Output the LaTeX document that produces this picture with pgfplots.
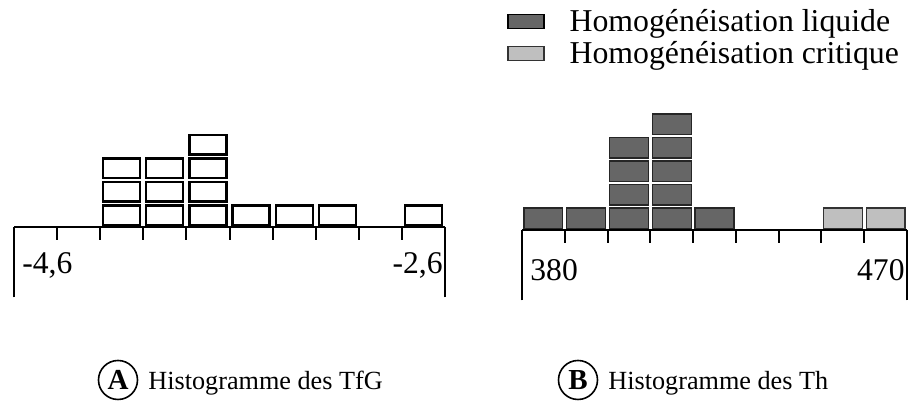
\documentclass[border=0pt]{standalone}
\usepackage{fontspec}
\setmainfont{Liberation Serif}
\usepackage{pgfplots}
\usepackage{pgfplotstable}
\pgfplotsset{compat=1.18}

% bin centre, count
\pgfplotstableread{
x n
-4.5 0
-4.3 0
-4.1 3
-3.9 3
-3.7 4
-3.5 1
-3.3 1
-3.1 1
-2.9 0
-2.7 1
}\dataTfG

\pgfplotstableread{
x liq crit
385 1 0
395 1 0
405 4 0
415 5 0
425 1 0
435 0 0
445 0 0
455 0 1
465 0 1
}\dataTh

% one box per counted inclusion
\pgfdeclareplotmark{boxA}{\pgfpathrectangle{\pgfqpoint{-9.25pt}{-4.85pt}}{\pgfqpoint{18.5pt}{9.7pt}}\pgfusepathqfillstroke}
\pgfdeclareplotmark{boxB}{\pgfpathrectangle{\pgfqpoint{-9.7pt}{-5.1pt}}{\pgfqpoint{19.4pt}{10.2pt}}\pgfusepathqfillstroke}

\pgfplotsset{
  panel/.style={
    y=11.75pt, ymin=-3, ymax=0, clip=false,
    axis x line*=top, axis y line*=box,
    axis line style={line width=1pt},
    tick align=inside, major tick length=6.5pt,
    every tick/.style={black, line width=1pt},
    ytick=\empty, xticklabels={,,},
    anchor=north west,
  },
}
\tikzset{lbl/.style={inner sep=0pt, font=\fontsize{15.8}{16}\selectfont}}

\begin{document}
\begin{tikzpicture}
\path[use as bounding box] (0,0) rectangle (455.5pt,205pt);

% ---- A : TfG
\begin{axis}[panel, at={(7pt,91.5pt)}, x=107.75pt,
  xmin=-4.6, xmax=-2.6,
  xtick={-4.6,-4.4,-4.2,-4.0,-3.8,-3.6,-3.4,-3.2,-3.0,-2.8,-2.6}]
\pgfplotsinvokeforeach{1,2,3,4}{
  \addplot[only marks, mark=boxA, mark options={draw=black, fill=white, line width=1.1pt},
    unbounded coords=discard, y filter/.expression={y>=#1 ? #1-0.5 : nan}]
    table[x=x, y=n] {\dataTfG};
}
\node[lbl, anchor=west, xshift=4pt] at (axis cs:-4.6,-1.62) {-4,6};
\node[lbl, anchor=east, xshift=-1pt] at (axis cs:-2.6,-1.62) {-2,6};
\end{axis}

% ---- B : Th
\begin{axis}[panel, at={(261pt,90pt)}, x=2.1389pt,
  xmin=380, xmax=470,
  xtick={380,390,...,470},
  legend style={at={(-0.039,4.14)}, anchor=north west, draw=none, fill=none,
    inner sep=0pt, row sep=3.5pt, column sep=12.5pt,
    nodes={inner sep=0pt}, font=\fontsize{15.9}{18}\selectfont},
  legend cell align=left]
\addlegendimage{legend image code/.code={\draw[fill=black!60, draw=black, line width=0.6pt] (0pt,-3.4pt) rectangle (18pt,3.4pt);}}
\addlegendentry{Homogénéisation liquide}
\addlegendimage{legend image code/.code={\draw[fill=black!25, draw=black!80, line width=0.6pt] (0pt,-3.4pt) rectangle (18pt,3.4pt);}}
\addlegendentry{Homogénéisation critique}
\pgfplotsinvokeforeach{1,2,3,4,5}{
  \addplot[only marks, mark=boxB, mark options={draw=black!85, fill=black!60, line width=0.6pt},
    unbounded coords=discard, y filter/.expression={y>=#1 ? #1-0.5 : nan}]
    table[x=x, y=liq] {\dataTh};
}
\addplot[only marks, mark=boxB, mark options={draw=black!80, fill=black!25, line width=0.6pt},
  unbounded coords=discard, y filter/.expression={y>=1 ? 0.5 : nan}]
  table[x=x, y=crit] {\dataTh};
\node[lbl, anchor=west, xshift=4pt] at (axis cs:380,-1.7) {380};
\node[lbl, anchor=east, xshift=-1pt] at (axis cs:470,-1.7) {470};
\end{axis}

% ---- captions
\node[circle, draw, line width=0.8pt, minimum size=19.5pt, inner sep=0pt,
  font=\fontsize{14.5}{14.5}\selectfont\bfseries] at (59pt,15pt) {A};
\node[anchor=base west, inner sep=0pt, font=\fontsize{13.1}{14}\selectfont]
  at (74pt,10pt) {Histogramme des TfG};
\node[circle, draw, line width=0.8pt, minimum size=19.5pt, inner sep=0pt,
  font=\fontsize{14.5}{14.5}\selectfont\bfseries] at (289pt,15pt) {B};
\node[anchor=base west, inner sep=0pt, font=\fontsize{13.1}{14}\selectfont]
  at (304pt,10pt) {Histogramme des Th};
\end{tikzpicture}
\end{document}
